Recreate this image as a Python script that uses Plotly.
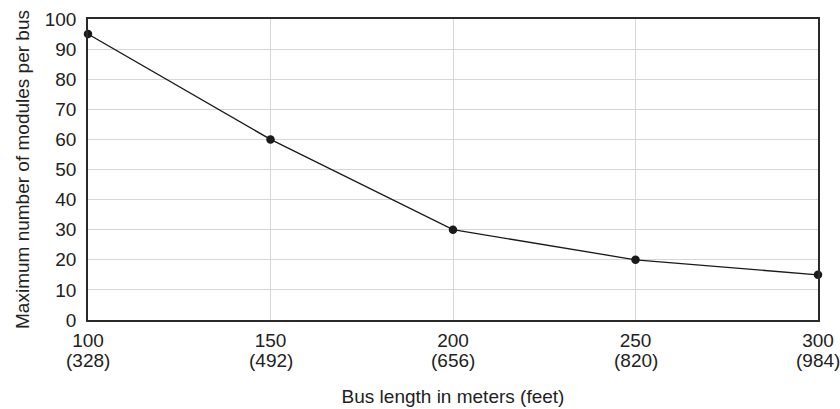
import plotly.graph_objects as go

lengths_m = [100, 150, 200, 250, 300]
lengths_ft = [328, 492, 656, 820, 984]
max_modules = [95, 60, 30, 20, 15]
y_ticks = list(range(0, 101, 10))

FS = 19
font = dict(family="Liberation Sans, Arial, sans-serif", size=FS, color="#222")

fig = go.Figure()
fig.add_trace(go.Scatter(
    x=lengths_m, y=max_modules, mode="lines+markers",
    line=dict(color="#1a1a1a", width=1.3),
    marker=dict(color="#1a1a1a", size=8.5),
    cliponaxis=False, showlegend=False,
))

# second line of the x tick labels (feet)
for m, f in zip(lengths_m, lengths_ft):
    fig.add_annotation(
        x=m, xref="x", y=0, yref="paper", yanchor="top", xanchor="center",
        yshift=-28, text=f"({f})", showarrow=False, font=font,
    )

fig.update_layout(
    width=840, height=409,
    margin=dict(l=88, r=22, t=19, b=89),
    paper_bgcolor="white", plot_bgcolor="white",
    font=font,
)
fig.update_xaxes(
    range=[100, 300], tickvals=lengths_m, ticktext=[str(m) for m in lengths_m],
    showgrid=True, gridcolor="#d6d6d6", gridwidth=1,
    showline=True, linecolor="#2a2a2a", linewidth=1.5, mirror=True,
    ticks="", zeroline=False, ticklabelstandoff=2, automargin=False,
    title=dict(text="Bus length in meters (feet)", standoff=40, font=font),
)
fig.update_yaxes(
    range=[0, 100], tickvals=y_ticks,
    showgrid=True, gridcolor="#d6d6d6", gridwidth=1,
    showline=True, linecolor="#2a2a2a", linewidth=1.5, mirror=True,
    ticks="", zeroline=False, ticklabelstandoff=6, automargin=False,
    title=dict(text="Maximum number of modules per bus", standoff=10, font=font),
)
fig.write_html(
    "out.html",
    config={"displayModeBar": False},
    post_script="document.body.style.margin='0';document.body.style.overflow='hidden';",
)
